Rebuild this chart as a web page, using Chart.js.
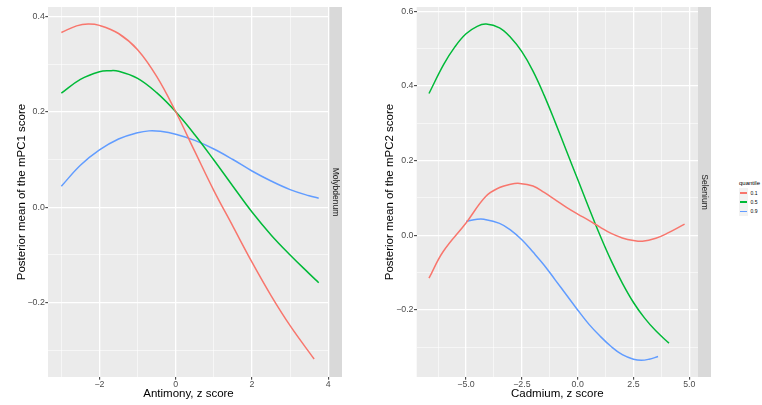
<!DOCTYPE html>
<html>
<head>
<meta charset="utf-8">
<script src="https://cdn.jsdelivr.net/npm/chart.js@4.4.1/dist/chart.umd.min.js"></script>
<style>
  body { margin: 0; background: #fff; width: 762px; height: 405px; position: relative; overflow: hidden; font-family: "Liberation Sans", Arial, sans-serif; }
  .panel { position: absolute; top: 0; width: 345px; height: 405px; }
  #legend { position: absolute; left: 739px; top: 179px; font-family: "Liberation Sans", Arial, sans-serif; color: #000; }
  #legend .ttl { font-size: 6px; height: 9px; line-height: 8px; }
  #legend .row { display: flex; align-items: center; height: 9.3px; }
  #legend .key { width: 8.6px; height: 9.3px; background: #F2F2F2; position: relative; }
  #legend .key span { position: absolute; left: 1px; right: 1px; top: 4px; height: 1.6px; }
  #legend .lab { font-size: 5px; margin-left: 3px; color: #000; }
</style>
</head>
<body>
<div class="panel" style="left:0"><canvas id="c1" width="345" height="405"></canvas></div>
<div class="panel" style="left:368px"><canvas id="c2" width="345" height="405"></canvas></div>
<div id="legend"></div>
<script>
// quantile groups
const quantiles = ['0.1', '0.5', '0.9'];
const colors = ['#F8766D', '#00BA38', '#619CFF'];

// left panel: Antimony vs mPC1 (strip Molybdenum)
const sbX_q1 = [-3.0, -2.6, -2.3, -2.0, -1.5, -1.0, -0.5, 0.0, 0.5, 1.0, 1.5, 2.0, 2.5, 3.0, 3.63];
const sbY_q1 = [0.366, 0.380, 0.384, 0.381, 0.364, 0.330, 0.274, 0.200, 0.117, 0.035, -0.040, -0.115, -0.185, -0.248, -0.318];
const sbX_q5 = [-3.0, -2.5, -2.0, -1.75, -1.5, -1.0, -0.5, 0.0, 0.5, 1.0, 1.5, 2.0, 2.5, 3.0, 3.5, 3.75];
const sbY_q5 = [0.239, 0.268, 0.284, 0.286, 0.285, 0.270, 0.240, 0.200, 0.152, 0.099, 0.044, -0.010, -0.058, -0.100, -0.139, -0.158];
const sbX_q9 = [-3.0, -2.5, -2.0, -1.5, -1.0, -0.7, -0.4, 0.0, 0.5, 1.0, 1.5, 2.0, 2.5, 3.0, 3.5, 3.75];
const sbY_q9 = [0.044, 0.088, 0.120, 0.143, 0.156, 0.160, 0.159, 0.153, 0.140, 0.122, 0.100, 0.076, 0.055, 0.037, 0.024, 0.019];

// right panel: Cadmium vs mPC2 (strip Selenium)
const cdX_q1 = [-6.66, -6.03, -5.0, -4.12, -3.5, -3.0, -2.6, -2.0, -1.5, -1.0, -0.5, 0.0, 0.5, 1.0, 1.5, 2.0, 2.5, 2.9, 3.5, 4.0, 4.79];
const cdY_q1 = [-0.115, -0.044, 0.033, 0.104, 0.128, 0.137, 0.139, 0.132, 0.115, 0.095, 0.075, 0.057, 0.040, 0.022, 0.005, -0.007, -0.014, -0.016, -0.008, 0.005, 0.030];
const cdX_q5 = [-6.66, -6.0, -5.5, -5.0, -4.5, -4.1, -3.5, -3.0, -2.5, -2.0, -1.5, -1.0, -0.5, 0.0, 0.5, 1.0, 1.5, 2.0, 2.5, 3.0, 3.5, 4.09];
const cdY_q5 = [0.380, 0.458, 0.505, 0.540, 0.560, 0.566, 0.556, 0.530, 0.492, 0.440, 0.375, 0.302, 0.226, 0.150, 0.074, 0.000, -0.068, -0.128, -0.180, -0.222, -0.256, -0.289];
const cdX_q9 = [-5.0, -4.5, -4.2, -3.5, -3.0, -2.5, -2.0, -1.5, -1.0, -0.5, 0.0, 0.5, 1.0, 1.5, 2.0, 2.5, 2.85, 3.2, 3.6];
const cdY_q9 = [0.037, 0.043, 0.043, 0.032, 0.014, -0.012, -0.045, -0.080, -0.120, -0.160, -0.200, -0.238, -0.270, -0.298, -0.320, -0.332, -0.335, -0.332, -0.325];

const FONT = '"Liberation Sans", Arial, sans-serif';

function pts(xs, ys) {
  return xs.map((v, i) => ({ x: v, y: ys[i] }));
}

function makeSets(groups) {
  return groups.map((g, i) => ({
    label: quantiles[i],
    data: pts(g[0], g[1]),
    borderColor: colors[i],
    borderWidth: 1.5,
    pointRadius: 0,
    fill: false,
    tension: 0.4
  }));
}

// grey panel + facet strip on the right
const panelBg = {
  id: 'panelBg',
  beforeDraw(chart, args, opts) {
    const ctx = chart.ctx, a = chart.chartArea;
    ctx.save();
    ctx.fillStyle = '#EBEBEB';
    ctx.fillRect(a.left, a.top, a.right - a.left, a.bottom - a.top);
    ctx.fillStyle = '#D9D9D9';
    ctx.fillRect(a.right, a.top, 13, a.bottom - a.top);
    ctx.translate(a.right + 6.5, (a.top + a.bottom) / 2);
    ctx.rotate(Math.PI / 2);
    ctx.fillStyle = '#1A1A1A';
    ctx.font = '8.5px ' + FONT;
    ctx.textAlign = 'center';
    ctx.textBaseline = 'middle';
    ctx.fillText(opts.label, 0, 0);
    ctx.restore();
  }
};

function axis(min, max, step, digits, title, isX, yWidth) {
  const major = v => Math.round(v / step) % 2 === 0;
  const s = {
    type: 'linear',
    min: min,
    max: max,
    border: { display: false },
    grid: {
      color: c => major(c.tick.value) ? '#FFFFFF' : 'rgba(255,255,255,0.55)',
      lineWidth: c => major(c.tick.value) ? 1.3 : 1,
      tickColor: c => major(c.tick.value) ? '#333333' : 'rgba(0,0,0,0)',
      tickLength: 2.7,
      tickWidth: 1
    },
    ticks: {
      stepSize: step,
      includeBounds: false,
      autoSkip: false,
      maxRotation: 0,
      color: '#4D4D4D',
      font: { family: FONT, size: 8.8, lineHeight: 1 },
      padding: isX ? 0 : 0.5,
      callback: v => major(v) ? v.toFixed(digits).replace('-', '\u2212') : ''
    },
    title: {
      display: true,
      text: title,
      color: '#000',
      font: { family: FONT, size: 11.5 },
      padding: isX ? { top: 0, bottom: 4 } : { top: 14.6, bottom: 0 }
    }
  };
  if (isX) {
    s.position = 'bottom';
    s.afterFit = sc => { sc.height = 28; };
  } else {
    s.position = 'left';
    s.afterFit = sc => { sc.width = yWidth; };
  }
  return s;
}

function makeChart(id, sets, xs, ys, strip, rightPad) {
  return new Chart(document.getElementById(id), {
    type: 'line',
    data: { datasets: sets },
    options: {
      responsive: false,
      animation: false,
      layout: { padding: { top: 7, right: rightPad, left: 0, bottom: 0 } },
      scales: { x: xs, y: ys },
      plugins: {
        legend: { display: false },
        tooltip: { enabled: false },
        panelBg: { label: strip }
      }
    },
    plugins: [panelBg]
  });
}

makeChart('c1',
  makeSets([[sbX_q1, sbY_q1], [sbX_q5, sbY_q5], [sbX_q9, sbY_q9]]),
  axis(-3.35, 4.02, 1, 0, 'Antimony, z score', true),
  axis(-0.3556, 0.4195, 0.1, 1, 'Posterior mean of the mPC1 score', false, 48),
  'Molybdenum', 16);

makeChart('c2',
  makeSets([[cdX_q1, cdY_q1], [cdX_q5, cdY_q5], [cdX_q9, cdY_q9]]),
  axis(-7.21, 5.39, 1.25, 1, 'Cadmium, z score', true),
  axis(-0.3797, 0.6118, 0.1, 1, 'Posterior mean of the mPC2 score', false, 48.7),
  'Selenium', 15);

// legend
const lg = document.getElementById('legend');
let html = '<div class="ttl">quantile</div>';
quantiles.forEach((q, i) => {
  html += '<div class="row"><div class="key"><span style="background:' + colors[i] + '"></span></div><div class="lab">' + q + '</div></div>';
});
lg.innerHTML = html;
</script>
</body>
</html>
